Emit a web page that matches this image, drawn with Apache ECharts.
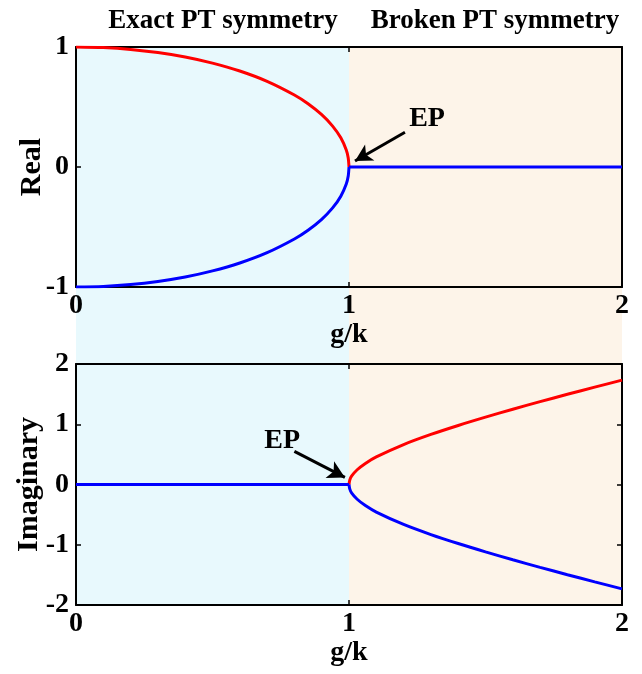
<!DOCTYPE html>
<html>
<head>
<meta charset="utf-8">
<script src="https://cdn.jsdelivr.net/npm/echarts@6/dist/echarts.min.js"></script>
<style>html,body{margin:0;padding:0;background:#fff}#c{width:642px;height:674px}</style>
</head>
<body>
<div id="c"></div>
<script>
// ---- data ----
var xTicks = [0, 1, 2];
var realTicks = [-1, 0, 1];
var imagTicks = [-2, -1, 0, 1, 2];
var regionNames = ['Exact PT symmetry', 'Broken PT symmetry'];
var regionBounds = [[0, 1], [1, 2]];

// g/k below the exceptional point
var xExact = [0, 0.1, 0.2, 0.3, 0.4, 0.5, 0.6, 0.7, 0.8, 0.85, 0.9, 0.94, 0.97, 0.99, 0.997, 1.0];
var realUpper = [1, 0.995, 0.98, 0.954, 0.917, 0.866, 0.8, 0.714, 0.6, 0.527, 0.436, 0.341, 0.243, 0.141, 0.077, 0];
var realLower = [-1, -0.995, -0.98, -0.954, -0.917, -0.866, -0.8, -0.714, -0.6, -0.527, -0.436, -0.341, -0.243, -0.141, -0.077, 0];
// g/k above the exceptional point
var xBroken = [1.0, 1.003, 1.01, 1.03, 1.06, 1.1, 1.2, 1.3, 1.4, 1.5, 1.6, 1.7, 1.8, 1.9, 2.0];
var imagUpper = [0, 0.077, 0.142, 0.245, 0.35, 0.458, 0.663, 0.831, 0.98, 1.118, 1.249, 1.375, 1.497, 1.616, 1.732];
var imagLower = [0, -0.077, -0.142, -0.245, -0.35, -0.458, -0.663, -0.831, -0.98, -1.118, -1.249, -1.375, -1.497, -1.616, -1.732];
// flat branches
var flatX = [[1, 2], [0, 1]];
var flatY = [0, 0];
// EP annotations: [label x, label y, tail x, tail y, head x, head y]
var epReal = [1.286, 0.40, 1.205, 0.29, 1.022, 0.05];
var epImag = [0.755, 0.73, 0.80, 0.55, 0.985, 0.117];

function zip(xs, ys) { return xs.map(function (x, i) { return [x, ys[i]]; }); }

var FONT = '"Liberation Serif", "Times New Roman", serif';
var RED = '#ff0000', BLUE = '#0000ff';
var TICK_FS = 28;

function xAx(gi, pos) {
  return {
    gridIndex: gi, type: 'value', min: 0, max: 2, interval: 1, position: pos,
    axisLine: { show: true, onZero: false, lineStyle: { color: '#000', width: 2 } },
    axisTick: { show: true, inside: true, length: 5, lineStyle: { color: '#000', width: 1.5 } },
    axisLabel: { show: pos === 'bottom', margin: 5, fontFamily: FONT, fontWeight: 'bold', fontSize: TICK_FS, color: '#000' },
    splitLine: { show: false },
    name: pos === 'bottom' ? 'g/k' : '', nameLocation: 'middle', nameGap: 31,
    nameTextStyle: { fontFamily: FONT, fontWeight: 'bold', fontSize: 28, color: '#000' }
  };
}
function yAx(gi, pos, mn, mx, name, gap) {
  return {
    gridIndex: gi, type: 'value', min: mn, max: mx, interval: 1, position: pos,
    axisLine: { show: true, onZero: false, lineStyle: { color: '#000', width: 2 } },
    axisTick: { show: true, inside: true, length: 5, lineStyle: { color: '#000', width: 1.5 } },
    axisLabel: { show: pos === 'left', margin: 7, fontFamily: FONT, fontWeight: 'bold', fontSize: TICK_FS, color: '#000' },
    splitLine: { show: false },
    name: pos === 'left' ? name : '', nameLocation: 'middle', nameGap: gap || 30, nameRotate: 90,
    nameMoveOverlap: false,
    nameTextStyle: { fontFamily: FONT, fontWeight: 'bold', fontSize: 30, color: '#000' }
  };
}

function epMarks(ep) {
  return {
    markLine: {
      silent: true, symbol: ['none', 'arrow'], symbolSize: [14, 17],
      lineStyle: { color: '#000', width: 3, type: 'solid' },
      label: { show: false },
      data: [[{ coord: [ep[2], ep[3]] }, { coord: [ep[4], ep[5]] }]]
    },
    markPoint: {
      silent: true, symbol: 'circle', symbolSize: 0,
      label: { show: true, formatter: 'EP', position: 'inside', fontFamily: FONT, fontWeight: 'bold', fontSize: 28, color: '#000' },
      data: [{ coord: [ep[0], ep[1]] }]
    }
  };
}

var chart = echarts.init(document.getElementById('c'), null, { renderer: 'canvas' });

var series = [
  { // background regions
    type: 'line', xAxisIndex: 4, yAxisIndex: 4, data: [], z: 0, silent: true,
    markArea: {
      silent: true, z: 0,
      data: [
        [{ xAxis: regionBounds[0][0], itemStyle: { color: '#e8f9fd' } }, { xAxis: regionBounds[0][1] }],
        [{ xAxis: regionBounds[1][0], itemStyle: { color: '#fdf4e9' } }, { xAxis: regionBounds[1][1] }]
      ]
    }
  },
  { type: 'line', xAxisIndex: 0, yAxisIndex: 0, data: zip(xExact, realUpper), smooth: 0.3, showSymbol: false, lineStyle: { color: RED, width: 3 }, z: 5 },
  { type: 'line', xAxisIndex: 0, yAxisIndex: 0, data: zip(xExact, realLower), smooth: 0.3, showSymbol: false, lineStyle: { color: BLUE, width: 3 }, z: 5 },
  Object.assign({ type: 'line', xAxisIndex: 0, yAxisIndex: 0, data: zip(flatX[0], flatY), showSymbol: false, lineStyle: { color: BLUE, width: 3 }, z: 5 }, epMarks(epReal)),
  { type: 'line', xAxisIndex: 1, yAxisIndex: 1, data: zip(xBroken, imagUpper), smooth: 0.3, showSymbol: false, lineStyle: { color: RED, width: 3 }, z: 5 },
  { type: 'line', xAxisIndex: 1, yAxisIndex: 1, data: zip(xBroken, imagLower), smooth: 0.3, showSymbol: false, lineStyle: { color: BLUE, width: 3 }, z: 5 },
  Object.assign({ type: 'line', xAxisIndex: 1, yAxisIndex: 1, data: zip(flatX[1], flatY), showSymbol: false, lineStyle: { color: BLUE, width: 3 }, z: 5 }, epMarks(epImag))
];

var titleStyle = { fontFamily: FONT, fontWeight: 'bold', fontSize: 27, color: '#000' };
chart.setOption({
  animation: false,
  backgroundColor: '#fff',
  title: [
    { text: regionNames[0], left: 218, top: 3, textAlign: 'center', textStyle: titleStyle },
    { text: regionNames[1], left: 490, top: 3, textAlign: 'center', textStyle: titleStyle }
  ],
  grid: [
    { left: 76, top: 47, width: 546, height: 240, containLabel: false, outerBoundsMode: 'none' },
    { left: 76, top: 364, width: 546, height: 241, containLabel: false, outerBoundsMode: 'none' },
    { left: 76, top: 47, width: 546, height: 558, containLabel: false, outerBoundsMode: 'none' }
  ],
  xAxis: [
    xAx(0, 'bottom'), xAx(1, 'bottom'),
    xAx(0, 'top'), xAx(1, 'top'),
    { gridIndex: 2, type: 'value', min: 0, max: 2, show: false }
  ],
  yAxis: [
    yAx(0, 'left', -1, 1, 'Real', 29), yAx(1, 'left', -2, 2, 'Imaginary', 32),
    yAx(0, 'right', -1, 1, ''), yAx(1, 'right', -2, 2, ''),
    { gridIndex: 2, type: 'value', min: 0, max: 1, show: false }
  ],
  series: series
});
</script>
</body>
</html>
